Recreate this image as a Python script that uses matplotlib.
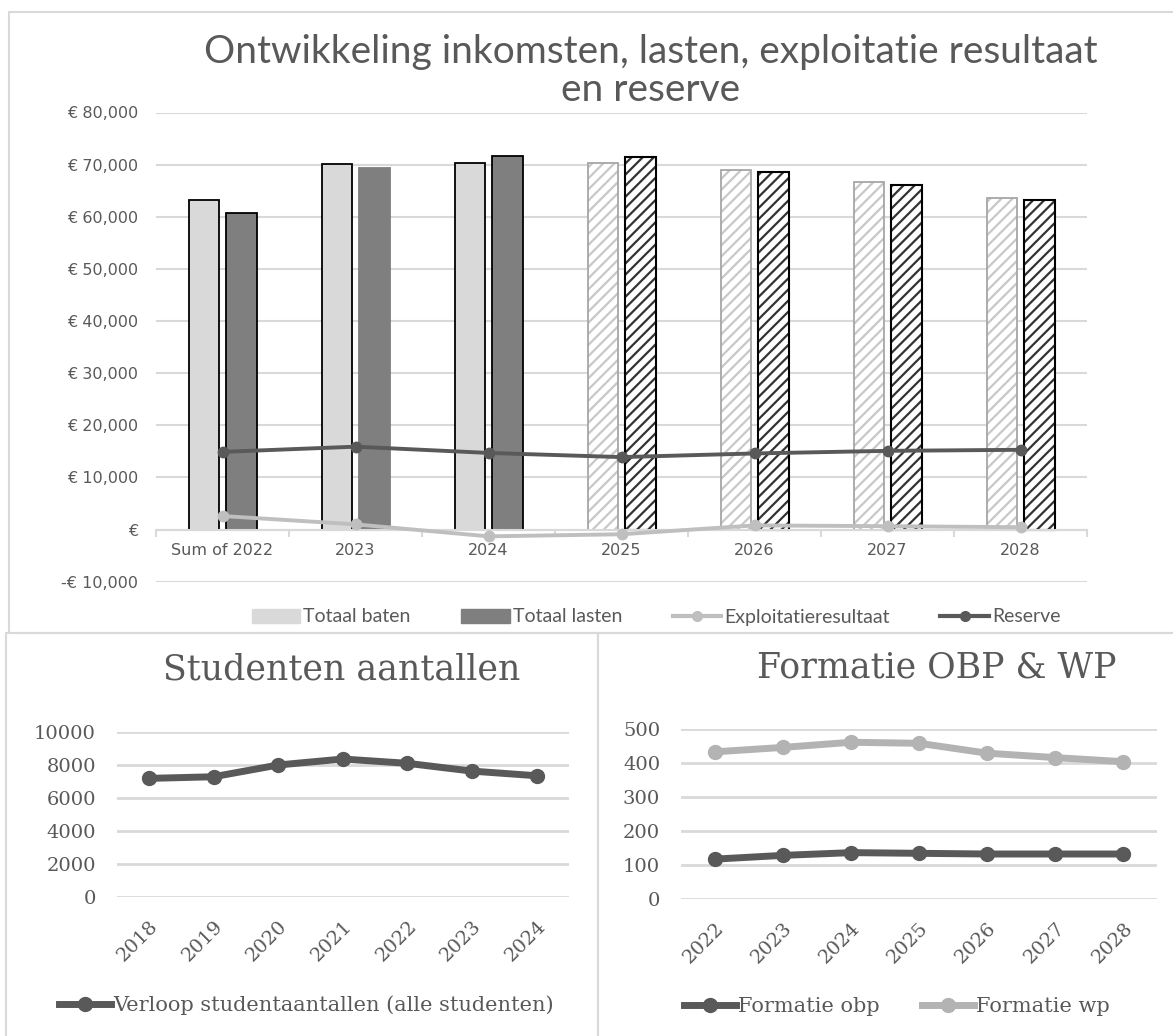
import matplotlib
matplotlib.use("Agg")
import matplotlib.pyplot as plt
from matplotlib import font_manager
from matplotlib.patches import Rectangle, Patch
from matplotlib.lines import Line2D
import numpy as np

# data
categories = ["Sum of 2022", "2023", "2024", "2025", "2026", "2027", "2028"]
totaal_baten = [63300, 70200, 70400, 70400, 69000, 66700, 63600]
totaal_lasten = [60700, 69300, 71700, 71500, 68500, 66100, 63200]
exploitatie = [2600, 1000, -1300, -900, 800, 650, 450]
reserve = [14900, 15900, 14700, 13900, 14600, 15100, 15300]
n_prognose = 4  # last four years are forecasts (hatched)

student_years = ["2018", "2019", "2020", "2021", "2022", "2023", "2024"]
studenten = [7180, 7280, 7990, 8350, 8090, 7620, 7340]

formatie_years = ["2022", "2023", "2024", "2025", "2026", "2027", "2028"]
formatie_obp = [118, 129, 137, 135, 133, 133, 133]
formatie_wp = [433, 446, 461, 458, 429, 416, 404]

W, H = 1173, 1036
fig = plt.figure(figsize=(W / 100, H / 100), dpi=100)

TXT = "#595959"
GRID = "#d9d9d9"
SERIF = ["DejaVu Serif"]

# narrow sans for the title if there is one, else Lato
try:
    font_manager.findfont("Liberation Sans Narrow", fallback_to_default=False)
    NARROW = ["Liberation Sans Narrow", "DejaVu Sans"]
    title_size = 28
    leg_size = 13
except ValueError:
    NARROW = ["Lato", "DejaVu Sans"]
    title_size = 28
    leg_size = 14


def px_axes(x0, y0, x1, y1):
    # pixel box (top-left origin) -> figure axes
    return fig.add_axes([x0 / W, 1 - y1 / H, (x1 - x0) / W, (y1 - y0) / H])


# panel borders
for (x0, y0, x1, y1) in [(9, 12, 1180, 633), (6, 633, 598, 1045), (598, 633, 1180, 1045)]:
    fig.add_artist(Rectangle((x0 / W, 1 - y1 / H), (x1 - x0) / W, (y1 - y0) / H,
                             transform=fig.transFigure, fill=False,
                             edgecolor=GRID, lw=1.5))

# ---------- top chart ----------
ax = px_axes(156, 112.5, 1087, 581.7)
x = np.arange(len(categories))
bw = 0.23
n_hist = len(categories) - n_prognose
hist = slice(0, n_hist)
prog = slice(n_hist, None)

ax.bar(x[hist] - 0.14, totaal_baten[hist], bw, color="#d9d9d9",
       edgecolor="black", lw=1.3, zorder=2)
ax.bar(x[hist] + 0.145, totaal_lasten[hist], bw, color="#7f7f7f",
       edgecolor=["black", "#7f7f7f", "black"], lw=1.3, zorder=2)

plt.rcParams["hatch.linewidth"] = 1.6
ax.bar(x[prog] - 0.14, totaal_baten[prog], bw, color="white",
       edgecolor="#c8c8c8", hatch="///", lw=0, zorder=2)
ax.bar(x[prog] - 0.14, totaal_baten[prog], bw, fill=False,
       edgecolor="#a6a6a6", lw=1.3, zorder=2)
ax.bar(x[prog] + 0.145, totaal_lasten[prog], bw, color="white",
       edgecolor="#333333", hatch="///", lw=0, zorder=2)
ax.bar(x[prog] + 0.145, totaal_lasten[prog], bw, fill=False,
       edgecolor="black", lw=1.5, zorder=2)

ax.plot(x, exploitatie, color="#bfbfbf", lw=2.8, marker="o", ms=7.5, zorder=3)
ax.plot(x, reserve, color="#595959", lw=2.8, marker="o", ms=7.5, zorder=3)

ax.set_xlim(-0.5, len(categories) - 0.5)
ax.set_ylim(-10000, 80000)
yt = np.arange(-10000, 80001, 10000)
ax.set_yticks(yt)
ylab = []
for v in yt:
    if v == 0:
        ylab.append("€")
    elif v < 0:
        ylab.append("-€ {:,}".format(-v))
    else:
        ylab.append("€ {:,}".format(v))
ax.set_yticklabels(ylab)
ax.grid(axis="y", color=GRID, lw=1.5, zorder=0)
ax.set_axisbelow(True)
for s in ["left", "right", "top"]:
    ax.spines[s].set_visible(False)
ax.spines["bottom"].set_position(("data", 0))
ax.spines["bottom"].set_color(GRID)
ax.spines["bottom"].set_linewidth(1.5)
ax.set_xticks(x)
ax.set_xticklabels(categories)
ax.set_xticks(np.arange(-0.5, len(categories)), minor=True)
ax.tick_params(axis="x", which="major", length=0, pad=10, labelsize=11.5, labelcolor=TXT)
ax.tick_params(axis="x", which="minor", length=5, color=GRID, width=1.5)
ax.tick_params(axis="y", length=0, pad=13, labelsize=11.5, labelcolor=TXT)

fig.text(651 / W, 1 - 52 / H, "Ontwikkeling inkomsten, lasten, exploitatie resultaat",
         ha="center", va="center", fontsize=title_size, color=TXT, family=NARROW)
fig.text(651 / W, 1 - 90 / H, "en reserve",
         ha="center", va="center", fontsize=title_size, color=TXT, family=NARROW)

handles = [Patch(color="#d9d9d9"), Patch(color="#7f7f7f"),
           Line2D([], [], color="#bfbfbf", lw=3, marker="o", ms=7),
           Line2D([], [], color="#595959", lw=3, marker="o", ms=7)]
labels = ["Totaal baten", "Totaal lasten", "Exploitatieresultaat", "Reserve"]
fig.legend(handles, labels, ncol=4, loc="center", bbox_to_anchor=(656 / W, 1 - 617 / H),
           frameon=False, prop={"family": NARROW, "size": leg_size}, labelcolor=TXT,
           handlelength=2.5, handletextpad=0.15, columnspacing=2.6, handleheight=0.7)

# ---------- bottom left: studenten ----------
ax2 = px_axes(116.7, 731.7, 569, 897.3)
xs = np.arange(len(student_years))
ax2.plot(xs, studenten, color="#595959", lw=5, marker="o", ms=10, zorder=3)
ax2.set_xlim(-0.5, len(student_years) - 0.5)
ax2.set_ylim(0, 10000)
ax2.set_yticks(np.arange(0, 10001, 2000))
ax2.set_xticks(xs)
ax2.set_xticklabels(student_years, rotation=45, ha="right", rotation_mode="anchor")
ax2.grid(axis="y", color=GRID, lw=2, zorder=0)
for s in ax2.spines.values():
    s.set_visible(False)
ax2.tick_params(length=0, labelsize=14, labelcolor=TXT)
ax2.tick_params(axis="y", pad=15)
ax2.tick_params(axis="x", pad=14)
for t in ax2.get_xticklabels() + ax2.get_yticklabels():
    t.set_family(SERIF)
fig.text(342 / W, 1 - 670 / H, "Studenten aantallen", ha="center", va="center",
         fontsize=25, color=TXT, family=SERIF)
fig.legend([Line2D([], [], color="#595959", lw=5, marker="o", ms=10)],
           ["Verloop studentaantallen (alle studenten)"],
           loc="center", bbox_to_anchor=(306 / W, 1 - 1005 / H), frameon=False,
           prop={"family": SERIF, "size": 15}, labelcolor=TXT,
           handlelength=2.5, handletextpad=0.1)

# ---------- bottom right: formatie ----------
ax3 = px_axes(681, 729, 1157.4, 899.3)
xf = np.arange(len(formatie_years))
ax3.plot(xf, formatie_obp, color="#595959", lw=5, marker="o", ms=10, zorder=3,
         label="Formatie obp")
ax3.plot(xf, formatie_wp, color="#b3b3b3", lw=5, marker="o", ms=10, zorder=3,
         label="Formatie wp")
ax3.set_xlim(-0.5, len(formatie_years) - 0.5)
ax3.set_ylim(0, 500)
ax3.set_yticks(np.arange(0, 501, 100))
ax3.set_xticks(xf)
ax3.set_xticklabels(formatie_years, rotation=45, ha="right", rotation_mode="anchor")
ax3.grid(axis="y", color=GRID, lw=2, zorder=0)
for s in ax3.spines.values():
    s.set_visible(False)
ax3.tick_params(length=0, labelsize=14, labelcolor=TXT)
ax3.tick_params(axis="y", pad=15)
ax3.tick_params(axis="x", pad=14)
for t in ax3.get_xticklabels() + ax3.get_yticklabels():
    t.set_family(SERIF)
fig.text(937 / W, 1 - 668 / H, "Formatie OBP & WP", ha="center", va="center",
         fontsize=25, color=TXT, family=SERIF)
h3, l3 = ax3.get_legend_handles_labels()
fig.legend(h3, l3, ncol=2, loc="center", bbox_to_anchor=(897 / W, 1 - 1007 / H),
           frameon=False, prop={"family": SERIF, "size": 15}, labelcolor=TXT,
           handlelength=2.5, handletextpad=0.1, columnspacing=2.0)

fig.savefig("out.png", dpi=100)
